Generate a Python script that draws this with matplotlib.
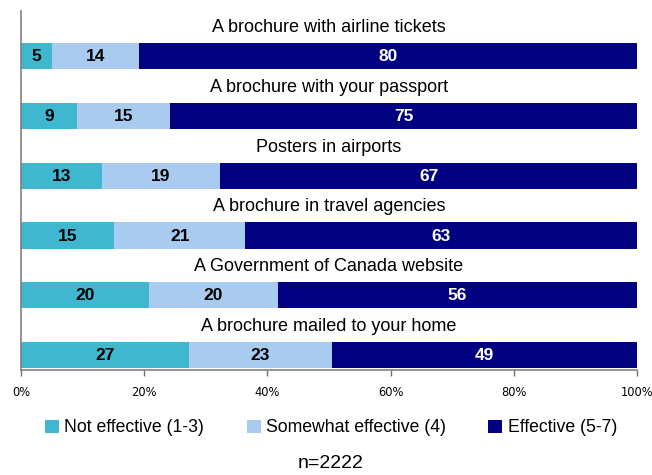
import matplotlib.pyplot as plt
import numpy as np

plt.rcParams['font.family'] = ['Liberation Sans', 'DejaVu Sans']

categories = [
    "A brochure with airline tickets",
    "A brochure with your passport",
    "Posters in airports",
    "A brochure in travel agencies",
    "A Government of Canada website",
    "A brochure mailed to your home",
]
not_effective = [5, 9, 13, 15, 20, 27]
somewhat_effective = [14, 15, 19, 21, 20, 23]
effective = [80, 75, 67, 63, 56, 49]

series_names = ["Not effective (1-3)", "Somewhat effective (4)", "Effective (5-7)"]
colors = ["#3FB8CF", "#A9CBF0", "#000080"]
label_colors = ["black", "black", "white"]

data = np.array([not_effective, somewhat_effective, effective], dtype=float)
shares = data / data.sum(axis=0) * 100  # 100% stacked

fig = plt.figure(figsize=(6.52, 4.75), dpi=100)
ax = fig.add_axes([21 / 652, 1 - 370 / 475, (637 - 21) / 652, (370 - 11) / 475])

n = len(categories)
bar_pos = np.arange(n) + 0.752
bar_h = 0.435
left = np.zeros(n)
handles = []
for k in range(3):
    h = ax.barh(bar_pos, shares[k], left=left, height=bar_h, color=colors[k],
                edgecolor='none', label=series_names[k])
    handles.append(h)
    for i in range(n):
        ax.text(left[i] + shares[k][i] / 2, bar_pos[i] + 0.01, f"{int(data[k][i])}",
                ha='center', va='center', fontsize=12.5, fontweight='bold',
                color=label_colors[k])
    left += shares[k]

for i, cat in enumerate(categories):
    ax.text(50, i + 0.275, cat, ha='center', va='center', fontsize=13, color='black')

ax.set_xlim(0, 100)
ax.set_ylim(n, 0)
ax.set_xticks([0, 20, 40, 60, 80, 100])
ax.set_xticklabels(["0%", "20%", "40%", "60%", "80%", "100%"], fontsize=8.3,
                   family='DejaVu Sans')
ax.set_yticks([])
ax.tick_params(axis='x', direction='out', length=4, width=1, color='#707070', pad=7.5)
for s in ['top', 'right']:
    ax.spines[s].set_visible(False)
for s in ['left', 'bottom']:
    ax.spines[s].set_color('#808080')
    ax.spines[s].set_linewidth(1.2)

fig.legend(handles=handles, labels=series_names, loc='center',
           bbox_to_anchor=(331 / 652, 1 - 428 / 475), ncol=3, frameon=False,
           fontsize=12.7, handlelength=0.8, handleheight=0.8, handletextpad=0.3,
           columnspacing=2.4, borderaxespad=0, borderpad=0)

fig.text(331 / 652, 1 - 464 / 475, "n=2222", ha='center', va='center', fontsize=14)

fig.savefig("out.png", dpi=100)
